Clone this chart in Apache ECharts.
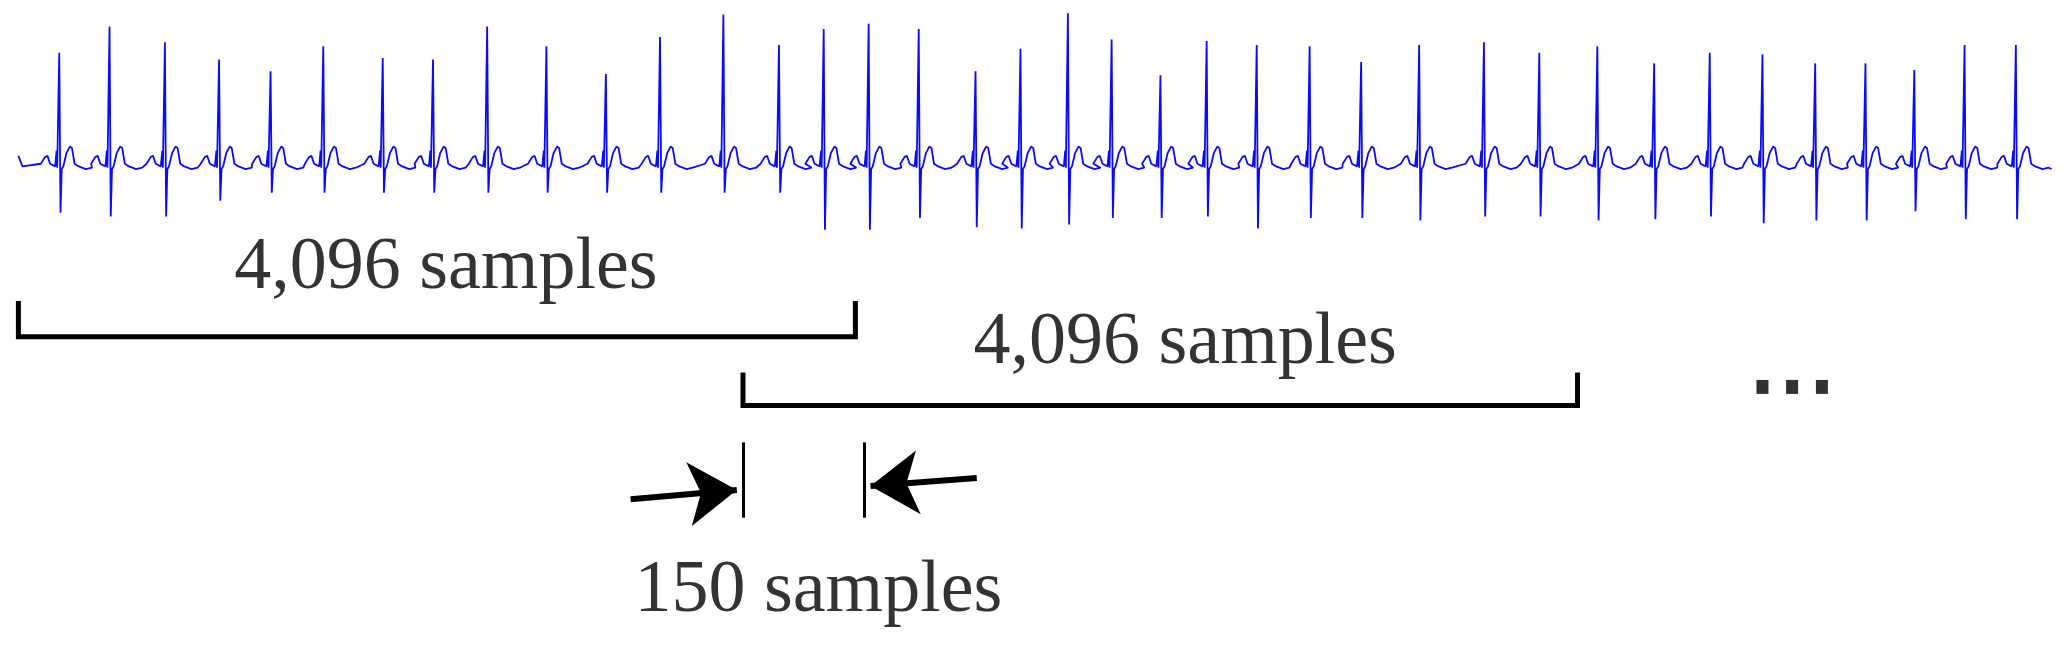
<!DOCTYPE html>
<html>
<head>
<meta charset="utf-8">
<script src="https://cdn.jsdelivr.net/npm/echarts@6/dist/echarts.min.js"></script>
<style>
  html, body { margin: 0; padding: 0; background: #fff; }
  #chart { width: 2070px; height: 655px; }
</style>
</head>
<body>
<div id="chart"></div>
<script>
// beat positions (sample index of R peak), R peak level and S trough level (display units, 0 = top)
var beatPos = [200, 446, 717, 982, 1234, 1492, 1783, 2029, 2294, 2584, 2875, 3140,
  3450, 3722, 3941, 4161, 4406, 4684, 4904, 5136, 5350, 5589, 5815, 6060, 6319, 6571,
  6855, 7172, 7443, 7727, 8005, 8277, 8535, 8793, 9039, 9278, 9524, 9775];
var beatPeak = [40, 20, 32, 45, 54, 35, 44, 45, 20, 35, 56, 28,
  11, 34, 22, 18, 22, 54, 37, 10, 30, 57, 31, 34, 35, 47,
  34, 32, 40, 35, 48, 40, 41, 48, 48, 53, 34, 34];
var beatTrough = [161, 164, 164, 152, 146, 146, 146, 146, 146, 146, 146, 146,
  146, 146, 174, 174, 165, 172, 173, 170, 165, 165, 164, 173, 165, 165,
  167, 164, 164, 167, 166, 164, 169, 167, 167, 160, 166, 166];
var baseline = 124;
var signalStart = 0, signalEnd = 9950;

// window brackets [start, end] in samples, and the 150-sample step marks
var windows = [[0, 4096], [3546, 7630]];
var windowLabels = ['4,096 samples', '4,096 samples'];
var stepMarks = [3546, 4140];
var stepLabel = '150 samples';

// one heartbeat shape, offsets in samples from R and level offsets from baseline
var shapeOff = [-90, -70, -58, -45, -20, -13, -10, -6, 0, 6, 12, 20, 35, 52, 62, 75, 95, 130, 160];
var shapeLvl = [0, -5, -6, 0, 2, -10, 3, 2, 'R', 'S', 4, 2, -8, -13, -12, 0, 2, 4, 3];

var ecg = [[signalStart, baseline - 6], [signalStart + 20, baseline + 2]];
beatPos.forEach(function (p, i) {
  shapeOff.forEach(function (o, k) {
    var v = shapeLvl[k];
    var y = v === 'R' ? beatPeak[i] : v === 'S' ? beatTrough[i] : baseline + v;
    if (p + o > signalStart + 20 && p + o < signalEnd) ecg.push([p + o, y]);
  });
});
ecg.push([signalEnd, baseline + 4]);

var bracketLines = [];
var bracketY = [[228, 255], [282, 307]];
windows.forEach(function (w, i) {
  var t = bracketY[i][0], b = bracketY[i][1];
  bracketLines.push({ coords: [[w[0], t], [w[0], b], [w[1], b], [w[1], t]] });
});

var chart = echarts.init(document.getElementById('chart'));
var font = '"Liberation Serif", "DejaVu Serif", serif';
chart.setOption({
  animation: false,
  grid: { left: 0, right: 0, top: 0, bottom: 0 },
  xAxis: { type: 'value', min: -90, max: 10040, show: false },
  yAxis: { type: 'value', min: 0, max: 496, inverse: true, show: false },
  series: [
    {
      type: 'line', data: ecg, showSymbol: false, silent: true,
      lineStyle: { color: '#0a0aff', width: 1.8 }
    },
    {
      type: 'lines', coordinateSystem: 'cartesian2d', polyline: true, silent: true,
      data: bracketLines,
      lineStyle: { color: '#000', width: 5, opacity: 1 }
    },
    {
      type: 'lines', coordinateSystem: 'cartesian2d', silent: true,
      data: stepMarks.map(function (x) { return { coords: [[x, 335], [x, 392]] }; }),
      lineStyle: { color: '#000', width: 3, opacity: 1 }
    },
    {
      type: 'lines', coordinateSystem: 'cartesian2d', silent: true,
      symbol: ['none', 'arrow'], symbolSize: [40, 48],
      data: [
        { coords: [[stepMarks[0] - 550, 378], [stepMarks[0] - 30, 371]] },
        { coords: [[stepMarks[1] + 550, 362], [stepMarks[1] + 30, 368]] }
      ],
      lineStyle: { color: '#000', width: 6, opacity: 1 }
    },
    {
      type: 'scatter', symbolSize: 0, silent: true,
      label: {
        show: true, position: 'inside', color: '#000', fontFamily: font, fontSize: 74,
        formatter: function (p) { return p.name; }
      },
      itemStyle: { color: '#000' },
      data: [
        { name: windowLabels[0], value: [2092, 203] },
        { name: windowLabels[1], value: [5710, 260] },
        { name: stepLabel, value: [3915, 448] }
      ]
    },
    {
      type: 'scatter', silent: true, symbol: 'rect', symbolSize: [12, 14],
      itemStyle: { color: '#000' },
      data: [[8535, 293], [8680, 293], [8826, 293]]
    }
  ]
});
</script>
</body>
</html>
